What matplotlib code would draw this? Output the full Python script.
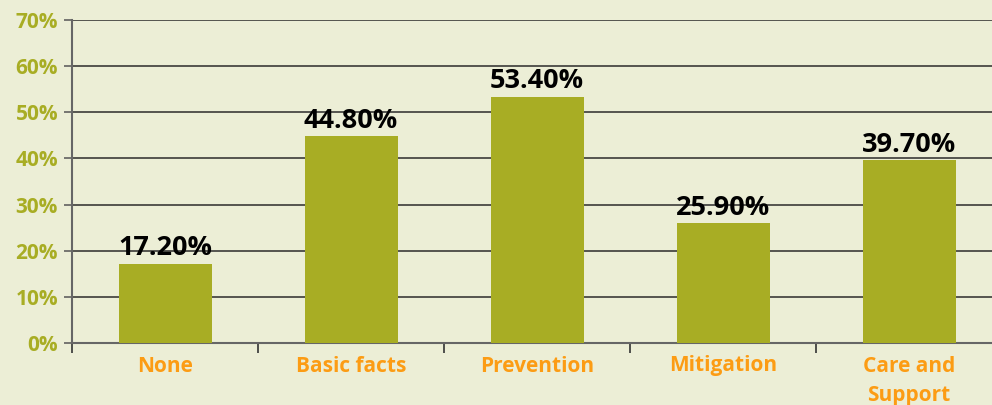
import matplotlib.pyplot as plt
import numpy as np

# data
categories = ["None", "Basic facts", "Prevention", "Mitigation", "Care and\nSupport"]
values = [17.2, 44.8, 53.4, 25.9, 39.7]
yticks = [0, 10, 20, 30, 40, 50, 60, 70]

bg = "#ECEED6"
olive = "#A8AD24"
orange = "#FC9C14"

plt.rcParams['font.family'] = ['Open Sans', 'DejaVu Sans']

fig = plt.figure(figsize=(9.92, 4.05), dpi=100, facecolor=bg)
ax = fig.add_axes([72/992, 1 - 343/405, 930/992, 323/405], facecolor=bg)

x = np.arange(len(categories))
bars = ax.bar(x, values, width=0.5, color=olive, zorder=3)

for b, v in zip(bars, values):
    ax.text(b.get_x() + b.get_width()/2, v + 1.8, f"{v:.2f}%",
            ha="center", va="baseline", fontsize=19.5, fontweight="bold",
            color="black", zorder=4)

ax.set_xlim(-0.5, len(categories) - 0.5)
ax.set_ylim(0, 70)
ax.set_yticks(yticks)
ax.set_yticklabels([f"{t}%" for t in yticks], fontsize=15, fontweight="bold", color=olive)
ax.yaxis.grid(True, color="#2b2b2b", linewidth=1.1, zorder=0)

ax.set_xticks(x)
ax.set_xticklabels(categories, fontsize=15, fontweight="bold", color=orange, linespacing=1.5)
ax.set_xticks(np.arange(-0.5, len(categories)), minor=True)
ax.tick_params(axis="x", which="major", length=0, pad=9)
ax.tick_params(axis="x", which="minor", length=7, width=1.2, color="#333333")
ax.tick_params(axis="y", length=6, width=1.1, color="#555555", pad=4)

for s in ["top", "right"]:
    ax.spines[s].set_visible(False)
ax.spines["left"].set_color("#666666")
ax.spines["left"].set_linewidth(1.5)
ax.spines["bottom"].set_color("#666666")
ax.spines["bottom"].set_linewidth(1.5)

fig.savefig("out.png", dpi=100, facecolor=bg)
